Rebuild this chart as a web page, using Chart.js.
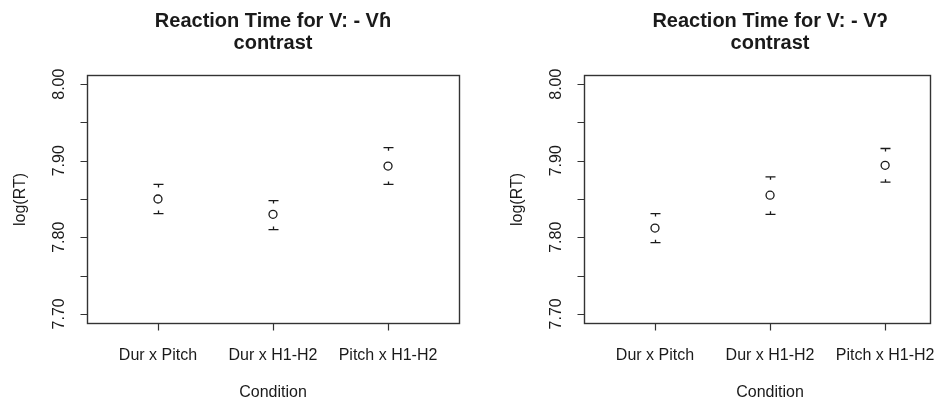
<!DOCTYPE html>
<html>
<head>
<meta charset="utf-8">
<script src="https://cdn.jsdelivr.net/npm/chart.js@4.4.1/dist/chart.umd.min.js"></script>
<style>
  body { margin: 0; background: #fff; }
  .panel { position: absolute; top: 0; }
</style>
</head>
<body>
<div class="panel" style="left:0px"><canvas id="left" width="474" height="400"></canvas></div>
<div class="panel" style="left:474px"><canvas id="right" width="475" height="400"></canvas></div>
<script>
// conditions on the x axis
const categories = ["Dur x Pitch", "Dur x H1-H2", "Pitch x H1-H2"];
const categoryPos = [1, 2, 3];
const yTicks = [7.70, 7.75, 7.80, 7.85, 7.90, 7.95, 8.00];
const yTickLabels = ["7.70", "", "7.80", "", "7.90", "", "8.00"];

// V: - Vɦ
const meanBreathy = [7.850, 7.830, 7.893];
const lowBreathy = [7.831, 7.810, 7.869];
const highBreathy = [7.869, 7.848, 7.917];

// V: - Vʔ
const meanGlottal = [7.812, 7.855, 7.894];
const lowGlottal = [7.793, 7.830, 7.872];
const highGlottal = [7.831, 7.879, 7.916];

const titleBreathy = ["Reaction Time for V: - Vɦ", "contrast"];
const titleGlottal = ["Reaction Time for V: - Vʔ", "contrast"];
const yLabel = "log(RT)";
const xLabel = "Condition";

const FONT = '"Liberation Sans", Arial, sans-serif';
const INK = "#1a1a1a";

// R style frame, ticks, labels and error bars
const rFrame = {
  id: "rFrame",
  afterDatasetsDraw(chart, args, opts) {
    const ctx = chart.ctx;
    const x = chart.scales.x, y = chart.scales.y;
    ctx.save();
    ctx.strokeStyle = INK;
    ctx.lineWidth = 1.3;
    opts.low.forEach((lo, i) => {
      const px = Math.round(x.getPixelForValue(categoryPos[i])) + 0.5;
      const yl = y.getPixelForValue(lo);
      const yh = y.getPixelForValue(opts.high[i]);
      ctx.beginPath();
      ctx.moveTo(px - 5, yh); ctx.lineTo(px + 5, yh);
      ctx.moveTo(px, yh); ctx.lineTo(px, yh + 3);
      ctx.moveTo(px - 5, yl); ctx.lineTo(px + 5, yl);
      ctx.moveTo(px, yl); ctx.lineTo(px, yl - 3);
      ctx.stroke();
    });
    ctx.restore();
  },
  afterDraw(chart, args, opts) {
    const ctx = chart.ctx;
    const a = chart.chartArea;
    const x = chart.scales.x, y = chart.scales.y;
    const L = Math.round(a.left) + 0.5, R = Math.round(a.right) + 0.5;
    const T = Math.round(a.top) + 0.5, B = Math.round(a.bottom) + 0.5;
    ctx.save();
    ctx.strokeStyle = "#333";
    ctx.lineWidth = 1.4;
    ctx.strokeRect(L, T, R - L, B - T);

    ctx.lineWidth = 1.2;
    ctx.beginPath();
    categoryPos.forEach(v => {
      const px = Math.round(x.getPixelForValue(v)) + 0.5;
      ctx.moveTo(px, B); ctx.lineTo(px, B + 7);
    });
    yTicks.forEach(v => {
      const py = Math.round(y.getPixelForValue(v)) + 0.5;
      ctx.moveTo(L, py); ctx.lineTo(L - 7, py);
    });
    ctx.stroke();

    ctx.fillStyle = INK;
    ctx.font = "16px " + FONT;
    ctx.textAlign = "center";
    ctx.textBaseline = "alphabetic";
    categories.forEach((c, i) => {
      ctx.fillText(c, x.getPixelForValue(categoryPos[i]), B + 36);
    });
    ctx.fillText(xLabel, x.getPixelForValue(2), 397);

    yTicks.forEach((v, i) => {
      if (!yTickLabels[i]) return;
      ctx.save();
      ctx.translate(L - 24, y.getPixelForValue(v));
      ctx.rotate(-Math.PI / 2);
      ctx.fillText(yTickLabels[i], 0, 0);
      ctx.restore();
    });
    ctx.save();
    ctx.translate(L - 63, (T + B) / 2);
    ctx.rotate(-Math.PI / 2);
    ctx.fillText(yLabel, 0, 0);
    ctx.restore();

    ctx.font = "bold 20px " + FONT;
    ctx.fillText(opts.title[0], opts.titleX, 27);
    ctx.fillText(opts.title[1], opts.titleX, 49);
    ctx.restore();
  }
};

function makePanel(id, title, mean, low, high, xMax, pad, titleX) {
  return new Chart(document.getElementById(id), {
    type: "scatter",
    data: {
      datasets: [{
        data: mean.map((m, i) => ({ x: categoryPos[i], y: m })),
        pointStyle: "circle",
        pointRadius: 4,
        pointBorderWidth: 1.3,
        pointBorderColor: INK,
        pointBackgroundColor: "rgba(0,0,0,0)"
      }]
    },
    options: {
      responsive: false,
      animation: false,
      layout: { padding: pad },
      scales: {
        x: { type: "linear", min: 0.383, max: xMax, display: false },
        y: { type: "linear", min: 7.688, max: 8.012, display: false }
      },
      plugins: {
        legend: { display: false },
        tooltip: { enabled: false },
        rFrame: { title: title, low: low, high: high, titleX: titleX }
      }
    },
    plugins: [rFrame]
  });
}

makePanel("left", titleBreathy, meanBreathy, lowBreathy, highBreathy, 3.617,
  { left: 87, right: 15, top: 75, bottom: 77 }, 273);
makePanel("right", titleGlottal, meanGlottal, lowGlottal, highGlottal, 3.39,
  { left: 110, right: 19, top: 75, bottom: 77 }, 296);
</script>
</body>
</html>
